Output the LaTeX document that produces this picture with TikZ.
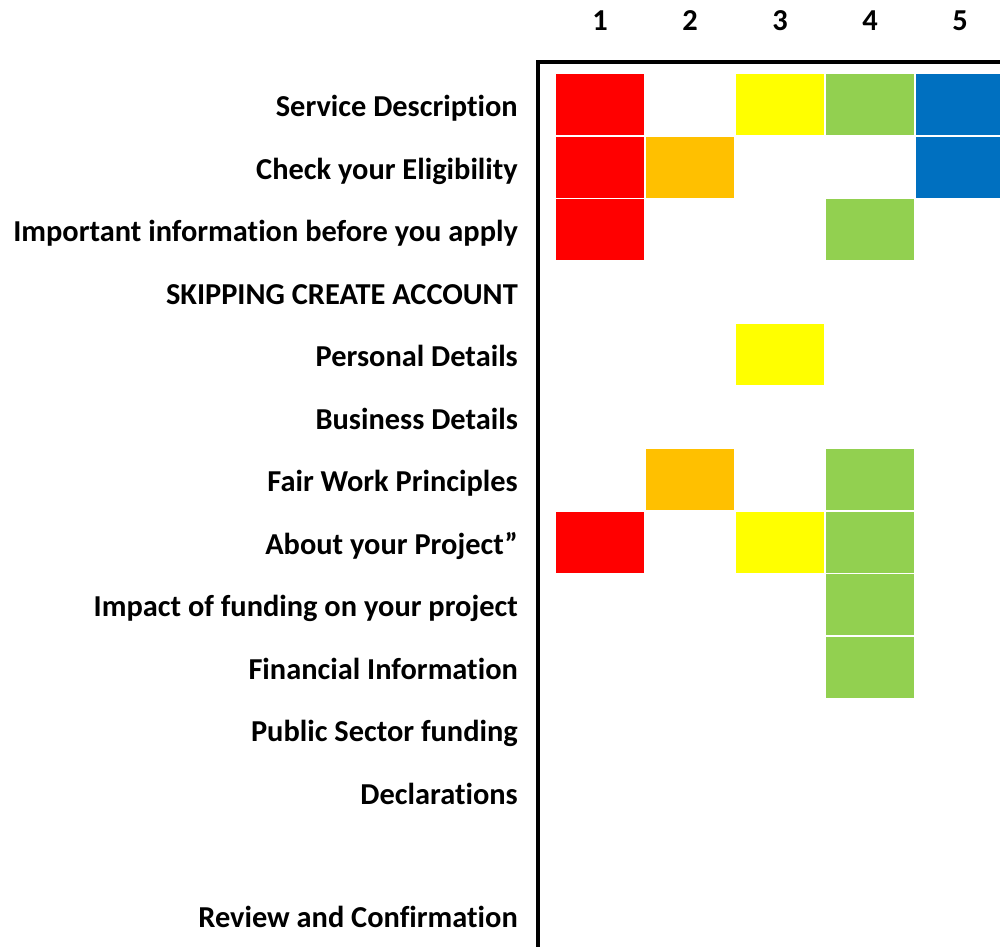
\documentclass[tikz,border=0pt]{standalone}
\usepackage{fontspec}
\setmainfont[RawFeature={-liga}]{Carlito}
\definecolor{cred}{HTML}{FF0000}
\definecolor{corange}{HTML}{FFC000}
\definecolor{cyellow}{HTML}{FFFF00}
\definecolor{cgreen}{HTML}{92D050}
\definecolor{cblue}{HTML}{0070C0}
\begin{document}
\begin{tikzpicture}[x=1pt,y=-1pt,
  lbl/.style={anchor=base east,inner sep=0pt,font=\bfseries\fontsize{30.4}{30.4}\selectfont},
  colnum/.style={anchor=base,inner sep=0pt,font=\bfseries\fontsize{30.4}{30.4}\selectfont},
  cell/.style={rectangle,draw=white,line width=1.5pt,minimum width=90pt,minimum height=62.5pt,inner sep=0pt},
  frame/.style={line width=4pt,black}]
\useasboundingbox (0,0) rectangle (1000,946);
\begin{scope}
\clip (0,0) rectangle (1000,946);
% cells
\foreach \r/\c/\col in {1/1/cred,1/3/cyellow,1/4/cgreen,1/5/cblue,
  2/1/cred,2/2/corange,2/5/cblue,
  3/1/cred,3/4/cgreen,
  5/3/cyellow,
  7/2/corange,7/4/cgreen,
  8/1/cred,8/3/cyellow,8/4/cgreen,
  9/4/cgreen,10/4/cgreen}
  \node[cell,fill=\col] (cell-\r-\c) at ({600+90*(\c-1)},{104.5+62.5*(\r-1)}) {};
% frame
\coordinate (fbl) at (538,960);
\coordinate (ftr) at (1010,62);
\draw[frame] (fbl) |- (ftr);
\end{scope}
% column numbers
\foreach \c in {1,...,5}
  \node[colnum] (col-\c) at ({600+90*(\c-1)},30.5) {\c};
% row labels
\foreach \r/\t in {1/Service Description,2/Check your Eligibility,3/Important information before you apply,
  4/SKIPPING CREATE ACCOUNT,5/Personal Details,6/Business Details,7/Fair Work Principles,
  8/About your Project”,9/Impact of funding on your project,10/Financial Information,
  11/Public Sector funding,12/Declarations}
  \node[lbl] (lbl-\r) at (518,{116.5+62.5*(\r-1)}) {\t};
\node[lbl] (lbl-14) at (518,927.5) {Review and Confirmation};
\end{tikzpicture}
\end{document}
